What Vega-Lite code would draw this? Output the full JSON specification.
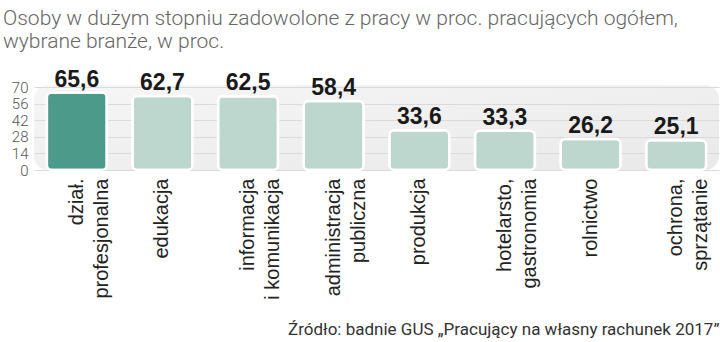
{
  "$schema": "https://vega.github.io/schema/vega-lite/v6.json",
  "width": 685,
  "height": 85,
  "autosize": {"type": "none"},
  "padding": {"left": 34, "top": 85, "right": 1, "bottom": 172},
  "title": {
    "text": ["Osoby w dużym stopniu zadowolone z pracy w proc. pracujących ogółem,", "wybrane branże, w proc."],
    "anchor": "start",
    "frame": "group",
    "dx": -31,
    "offset": 17
  },
  "data": {
    "values": [
      {"branza": "dział.|profesjonalna", "wartosc": 65.6, "wyr": "tak"},
      {"branza": "edukacja", "wartosc": 62.7, "wyr": "nie"},
      {"branza": "informacja|i komunikacja", "wartosc": 62.5, "wyr": "nie"},
      {"branza": "administracja|publiczna", "wartosc": 58.4, "wyr": "nie"},
      {"branza": "produkcja", "wartosc": 33.6, "wyr": "nie"},
      {"branza": "hotelarsto,|gastronomia", "wartosc": 33.3, "wyr": "nie"},
      {"branza": "rolnictwo", "wartosc": 26.2, "wyr": "nie"},
      {"branza": "ochrona,|sprzątanie", "wartosc": 25.1, "wyr": "nie"}
    ]
  },
  "encoding": {
    "x": {
      "field": "branza",
      "type": "nominal",
      "sort": null,
      "scale": {"paddingInner": 0.3, "paddingOuter": 0.15},
      "axis": {
        "title": "Źródło: badnie GUS „Pracujący na własny rachunek 2017”",
        "titleAnchor": "end",
        "titleFont": "Roboto",
        "titleFontSize": 17,
        "titleFontWeight": "normal",
        "titleColor": "#333333",
        "titlePadding": 22,
        "labelExpr": "split(datum.label, '|')",
        "labelAngle": 270,
        "labelFont": "Liberation Sans",
        "labelFontSize": 20,
        "labelColor": "#222222",
        "labelLineHeight": 25,
        "labelPadding": 8,
        "ticks": false,
        "domain": false,
        "grid": false
      }
    },
    "y": {
      "field": "wartosc",
      "type": "quantitative",
      "scale": {"domain": [0, 72], "nice": false},
      "axis": {
        "title": null,
        "values": [0, 14, 28, 42, 56, 70],
        "labelOverlap": false,
        "labelFont": "Roboto",
        "labelFontWeight": 300,
        "labelFontSize": 15,
        "labelColor": "#555555",
        "labelPadding": 6,
        "ticks": false,
        "domain": false,
        "gridColor": "#dadada",
        "gridWidth": 1
      }
    }
  },
  "layer": [
    {
      "mark": {"type": "bar", "cornerRadius": 5, "stroke": "white", "strokeWidth": 2.5},
      "encoding": {
        "color": {
          "field": "wyr",
          "type": "nominal",
          "scale": {"domain": ["tak", "nie"], "range": ["#4b9a8a", "#bdd7cf"]},
          "legend": null
        }
      }
    },
    {
      "mark": {"type": "text", "baseline": "alphabetic", "dy": -6, "font": "Liberation Sans", "fontWeight": "bold", "fontSize": 23, "color": "#1a1a1a"},
      "encoding": {
        "text": {"field": "wartosc", "type": "quantitative", "format": ".1f"}
      }
    }
  ],
  "config": {
    "locale": {"number": {"decimal": ",", "thousands": " ", "grouping": [3], "currency": ["", " zł"]}},
    "title": {"font": "Roboto", "fontSize": 21, "fontWeight": 300, "color": "#666666", "lineHeight": 23},
    "view": {
      "fill": {"gradient": "linear", "x1": 0, "x2": 1, "y1": 0, "y2": 1, "stops": [{"offset": 0, "color": "#f6f6f6"}, {"offset": 1, "color": "#e9e9e9"}]},
      "stroke": null,
      "cornerRadius": 14
    }
  }
}
